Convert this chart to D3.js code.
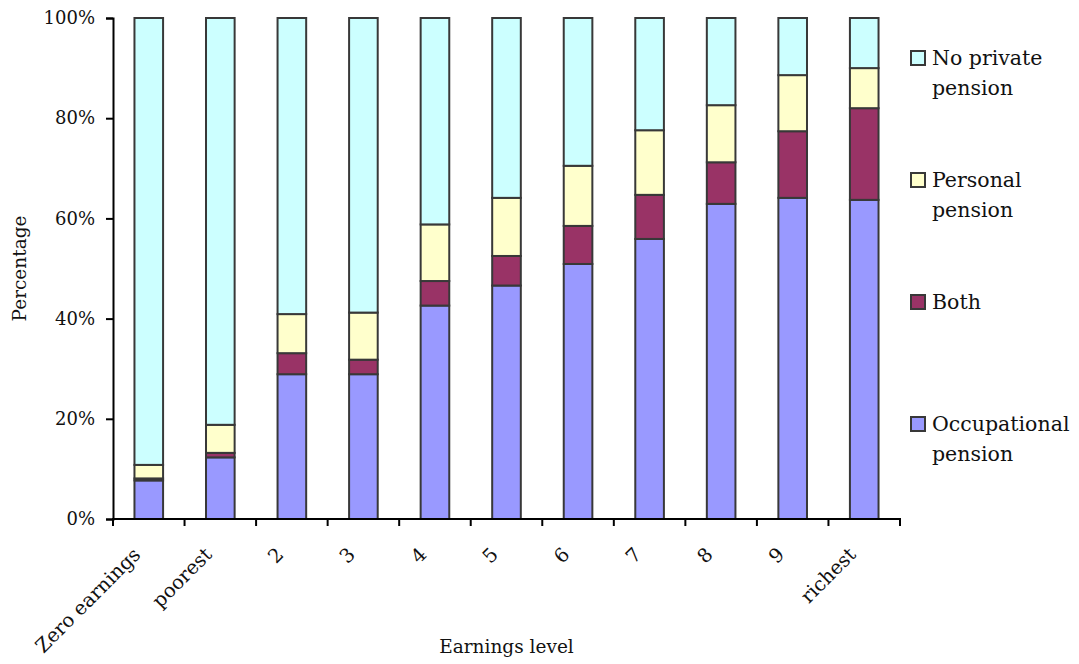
<!DOCTYPE html>
<html>
<head>
<meta charset="utf-8">
<script src="https://cdn.jsdelivr.net/npm/d3@7"></script>
<style>
  html, body { margin: 0; padding: 0; background: #fff; }
  svg { display: block; }
  text { font-family: "DejaVu Serif", "Liberation Serif", serif; fill: #111; }
</style>
</head>
<body>
<svg id="chart" width="1079" height="664"></svg>
<script>
const categories = ["Zero earnings", "poorest", "2", "3", "4", "5", "6", "7", "8", "9", "richest"];
const occupational = [7.7, 12.3, 28.9, 28.9, 42.6, 46.6, 50.9, 55.9, 62.9, 64.1, 63.7];
const both         = [0.4, 0.9, 4.2, 2.9, 4.9, 5.9, 7.6, 8.8, 8.3, 13.3, 18.3];
const personal     = [2.7, 5.6, 7.8, 9.4, 11.3, 11.6, 12.0, 12.9, 11.4, 11.2, 8.0];
const noPrivate    = [89.2, 81.2, 59.1, 58.8, 41.2, 35.9, 29.5, 22.4, 17.4, 11.4, 10.0];
const seriesNames  = ["Occupational pension", "Both", "Personal pension", "No private pension"];
const legendLines  = [["Occupational", "pension"], ["Both"], ["Personal", "pension"], ["No private", "pension"]];
const yTicks = [0, 20, 40, 60, 80, 100];

const colors = ["#9999FF", "#993366", "#FFFFCC", "#CCFFFF"];
const seriesValues = [occupational, both, personal, noPrivate];

const svg = d3.select("#chart");
const margin = { left: 113, right: 1079 - 900, top: 18, bottom: 664 - 519 };
const W = 1079, H = 664;

const x = d3.scaleBand().domain(categories).range([margin.left, W - margin.right]).paddingInner(0.6).paddingOuter(0.3);
const y = d3.scaleLinear().domain([0, 100]).range([H - margin.bottom, margin.top]);

const table = categories.map((c, i) => {
  const row = { cat: c };
  seriesNames.forEach((s, k) => row[s] = seriesValues[k][i]);
  return row;
});
const stacked = d3.stack().keys(seriesNames)(table);

const g = svg.append("g");
stacked.forEach((layer, k) => {
  g.selectAll(null).data(layer).enter().append("rect")
    .attr("x", d => x(d.data.cat))
    .attr("width", x.bandwidth())
    .attr("y", d => y(d[1]))
    .attr("height", d => y(d[0]) - y(d[1]))
    .attr("fill", colors[k])
    .attr("stroke", "#383838")
    .attr("stroke-width", 2);
});

// Y axis
const yAxis = svg.append("g").attr("transform", `translate(${margin.left},0)`)
  .call(d3.axisLeft(y).tickValues(yTicks).tickFormat(d => d + "%").tickSize(7).tickPadding(11));
yAxis.select(".domain").attr("stroke", "#000").attr("stroke-width", 2);
yAxis.selectAll(".tick line").attr("stroke", "#000").attr("stroke-width", 2);
yAxis.selectAll(".tick text").style("font-size", "18px").style("font-family", "DejaVu Serif, serif").attr("fill", "#111");

// X axis: ticks at band boundaries
const x0 = margin.left, x1 = W - margin.right;
const step = (x1 - x0) / categories.length;
const xAxisG = svg.append("g");
xAxisG.append("line").attr("x1", x0 - 1).attr("x2", x1 + 1).attr("y1", y(0)).attr("y2", y(0)).attr("stroke", "#000").attr("stroke-width", 2);
d3.range(categories.length + 1).forEach(i => {
  xAxisG.append("line").attr("x1", x0 + i * step).attr("x2", x0 + i * step)
    .attr("y1", y(0)).attr("y2", y(0) + 7).attr("stroke", "#000").attr("stroke-width", 2);
});
categories.forEach(c => {
  const cx = x(c) + x.bandwidth() / 2 - 12;
  const cy = 551;
  xAxisG.append("text")
    .attr("transform", `translate(${cx},${cy}) rotate(-45)`)
    .attr("text-anchor", "end")
    .attr("dy", "0.35em")
    .style("font-size", "19.5px")
    .text(c);
});

// Axis titles
svg.append("text").attr("x", (x0 + x1) / 2).attr("y", 653).attr("text-anchor", "middle").style("font-size", "18.5px").text("Earnings level");
svg.append("text").attr("transform", `translate(26,${(y(0) + y(100)) / 2}) rotate(-90)`).attr("text-anchor", "middle").style("font-size", "18.5px").text("Percentage");

// Legend (top to bottom: No private, Personal, Both, Occupational)
const legendOrder = [3, 2, 1, 0];
const legendY = [58, 180, 302, 424];
legendOrder.forEach((k, j) => {
  const ly = legendY[j];
  svg.append("rect").attr("x", 911).attr("y", ly - 7).attr("width", 14).attr("height", 14)
    .attr("fill", colors[k]).attr("stroke", "#383838").attr("stroke-width", 2);
  legendLines[k].forEach((line, li) => {
    svg.append("text").attr("x", 932).attr("y", ly + 7 + li * 30).style("font-size", "20.5px").text(line);
  });
});
</script>
</body>
</html>
